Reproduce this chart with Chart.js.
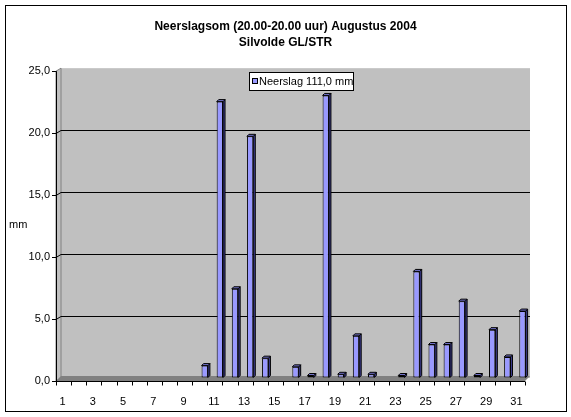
<!DOCTYPE html>
<html>
<head>
<meta charset="utf-8">
<title>Neerslagsom Augustus 2004</title>
<script src="https://cdn.jsdelivr.net/npm/chart.js"></script>
<style>
  html, body { margin: 0; padding: 0; background: #fff; }
  canvas { display: block; }
</style>
</head>
<body>
<canvas id="myChart" width="571" height="417"></canvas>
<script>
// data (mm per day, August 2004)
const days = ['1','2','3','4','5','6','7','8','9','10','11','12','13','14','15','16',
              '17','18','19','20','21','22','23','24','25','26','27','28','29','30','31'];
const rain = [0, 0, 0, 0, 0, 0, 0, 0, 0, 1.0, 22.3, 7.2, 19.5, 1.6, 0, 0.9,
              0.2, 22.8, 0.3, 3.4, 0.3, 0, 0.2, 8.6, 2.7, 2.7, 6.2, 0.2, 3.9, 1.7, 5.4];
const yTicks = [0, 5, 10, 15, 20, 25];
const titleLines = ['Neerslagsom (20.00-20.00 uur) Augustus 2004', 'Silvolde GL/STR'];
const legendText = 'Neerslag 111,0 mm';
const unitText = 'mm';

const FONT = "'Liberation Sans', Arial, sans-serif";
const DX = 5, DY = 3; // depth of the 3d walls

let ctx = document.getElementById('myChart').getContext('2d');

// walls, floor, front axes and the frame around the chart
const excelLook = {
    id: 'excelLook',
    beforeDraw(chart) {
        const c = chart.ctx, a = chart.chartArea;
        c.save();
        c.fillStyle = '#fff';
        c.fillRect(0, 0, chart.width, chart.height);
        // back wall
        c.fillStyle = '#c0c0c0';
        c.fillRect(a.left, a.top, a.right - a.left, a.bottom - a.top);
        // left wall
        c.beginPath();
        c.moveTo(a.left - DX, a.top + DY);
        c.lineTo(a.left, a.top);
        c.lineTo(a.left, a.bottom);
        c.lineTo(a.left - DX, a.bottom + DY);
        c.closePath();
        c.fill();
        c.strokeStyle = '#808080';
        c.lineWidth = 1;
        c.stroke();
        // floor
        c.beginPath();
        c.moveTo(a.left - DX, a.bottom + DY);
        c.lineTo(a.left, a.bottom - 2);
        c.lineTo(a.right, a.bottom - 2);
        c.lineTo(a.right - DX, a.bottom + DY);
        c.closePath();
        c.fillStyle = '#808080';
        c.fill();
        c.restore();
    },
    afterDatasetsDraw(chart) {
        const c = chart.ctx, a = chart.chartArea;
        const yScale = chart.scales.y, xScale = chart.scales.x;
        c.save();
        // 3d top and side of every bar
        chart.getDatasetMeta(0).data.forEach((bar, i) => {
            if (!rain[i]) return;
            const r = bar.x + bar.width / 2, l = bar.x - bar.width / 2;
            c.lineWidth = 1;
            c.strokeStyle = '#000';
            c.beginPath();
            c.moveTo(r, bar.y); c.lineTo(r + 2, bar.y - 2);
            c.lineTo(r + 2, bar.base - 2); c.lineTo(r, bar.base);
            c.closePath();
            c.fillStyle = '#3d3d8f';
            c.fill(); c.stroke();
            c.beginPath();
            c.moveTo(l, bar.y); c.lineTo(l + 2, bar.y - 2);
            c.lineTo(r + 2, bar.y - 2); c.lineTo(r, bar.y);
            c.closePath();
            c.fillStyle = '#7373cc';
            c.fill(); c.stroke();
        });
        c.strokeStyle = '#000';
        c.lineWidth = 1;
        // gridlines running over the left wall + front ticks
        c.beginPath();
        yTicks.forEach(v => {
            const y = Math.round(yScale.getPixelForValue(v)) + 0.5;
            if (v > 0 && v < 25) {
                c.moveTo(a.left - DX, y + DY);
                c.lineTo(a.left, y);
            }
            c.moveTo(a.left - DX - 4, y + DY);
            c.lineTo(a.left - DX, y + DY);
        });
        // front y axis
        const fx = a.left - DX + 0.5;
        c.moveTo(fx, a.top + DY);
        c.lineTo(fx, a.bottom + DY + 0.5);
        // front x axis and its ticks
        const fy = a.bottom + DY + 0.5;
        c.moveTo(a.left - DX, fy);
        c.lineTo(a.right - DX, fy);
        const step = (xScale.right - xScale.left) / days.length;
        for (let i = 0; i <= days.length; i++) {
            const x = Math.round(xScale.left + i * step - DX) + 0.5;
            c.moveTo(x, fy);
            c.lineTo(x, fy + 4);
        }
        c.stroke();
        c.restore();
    },
    afterDraw(chart) {
        const c = chart.ctx;
        c.save();
        // legend box
        c.fillStyle = '#fff';
        c.fillRect(249.5, 72.5, 104, 18);
        c.strokeStyle = '#000';
        c.lineWidth = 1;
        c.strokeRect(249.5, 72.5, 104, 18);
        c.fillStyle = '#9999ff';
        c.fillRect(252.5, 78.5, 5, 5);
        c.strokeRect(252.5, 78.5, 5, 5);
        c.fillStyle = '#000';
        c.font = '11px ' + FONT;
        c.textBaseline = 'middle';
        c.textAlign = 'left';
        c.fillText(legendText, 259, 82);
        // unit label
        c.fillText(unitText, 9, 225);
        // outer frame
        c.strokeRect(5.5, 5.5, 561, 406);
        c.restore();
    }
};

let myChart = new Chart(ctx, {
    type: 'bar',
    data: {
        labels: days,
        datasets: [{
            label: legendText,
            data: rain,
            backgroundColor: '#9999ff',
            borderColor: '#000',
            borderWidth: 1,
            borderSkipped: false,
            categoryPercentage: 1,
            barPercentage: 0.42
        }]
    },
    options: {
        responsive: false,
        animation: false,
        devicePixelRatio: 1,
        layout: { padding: { left: 20, right: 20, top: 0, bottom: 0 } },
        plugins: {
            legend: { display: false },
            tooltip: { enabled: false },
            title: {
                display: true,
                text: titleLines,
                color: '#000',
                font: { family: FONT, size: 12, weight: 'bold', lineHeight: 1.34 },
                padding: { top: 19, bottom: 17 }
            }
        },
        scales: {
            x: {
                grid: { display: false },
                border: { display: false },
                ticks: {
                    autoSkip: false,
                    maxRotation: 0,
                    padding: 9,
                    labelOffset: -6,
                    color: '#000',
                    font: { family: FONT, size: 11 },
                    callback: (v, i) => (i % 2 === 0 ? days[i] : '')
                },
                afterFit: scale => { scale.height = 39; }
            },
            y: {
                min: 0,
                max: 25,
                grid: {
                    drawTicks: false,
                    color: c => (c.tick && (c.tick.value === 0 || c.tick.value === 25) ? 'rgba(0,0,0,0)' : '#000'),
                    lineWidth: 1
                },
                border: { display: false },
                ticks: {
                    stepSize: 5,
                    padding: 11,
                    labelOffset: 3,
                    color: '#000',
                    font: { family: FONT, size: 11 },
                    callback: v => v.toFixed(1).replace('.', ',')
                },
                afterFit: scale => { scale.width = 41; }
            },
            // empty right axis, only keeps the right margin so the title stays centred
            yRight: {
                position: 'right',
                grid: { display: false },
                border: { display: false },
                ticks: { display: false },
                afterFit: scale => { scale.width = 21; }
            }
        }
    },
    plugins: [excelLook]
});
</script>
</body>
</html>
